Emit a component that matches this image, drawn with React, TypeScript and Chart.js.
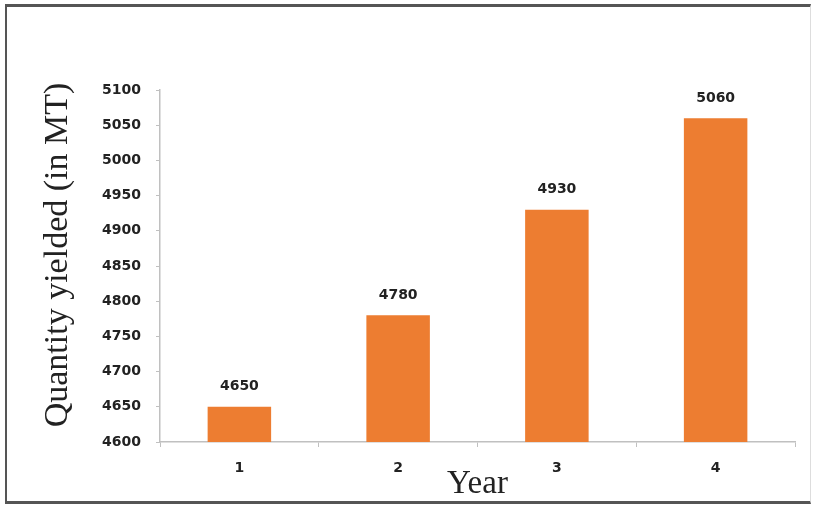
import React, { useEffect, useRef } from "react";
import { Chart, registerables } from "chart.js";

Chart.register(...registerables);

const years: string[] = ["1", "2", "3", "4"];
const quantities: number[] = [4650, 4780, 4930, 5060];
const yMin = 4600;
const yMax = 5100;
const yStep = 50;
const xTitle = "Year";
const yTitle = "Quantity yielded (in MT)";

const valueLabels = {
  id: "valueLabels",
  afterDatasetsDraw(chart: any) {
    const ctx = chart.ctx;
    const meta = chart.getDatasetMeta(0);
    ctx.save();
    ctx.font = "bold 14px 'DejaVu Sans'";
    ctx.fillStyle = "#222";
    ctx.textAlign = "center";
    ctx.textBaseline = "middle";
    meta.data.forEach((bar: any, i: number) => {
      ctx.fillText(String(chart.data.datasets[0].data[i]), bar.x, bar.y - 20);
    });
    ctx.restore();
  },
};

const yTitlePlugin = {
  id: "yTitlePlugin",
  afterDraw(chart: any) {
    const ctx = chart.ctx;
    ctx.save();
    ctx.translate(58, 255);
    ctx.rotate(-Math.PI / 2);
    ctx.font = "34px 'Liberation Serif'";
    ctx.fillStyle = "#222";
    ctx.textAlign = "center";
    ctx.textBaseline = "middle";
    ctx.fillText(yTitle, 0, 0);
    ctx.restore();
  },
};

export default function App() {
  const ref = useRef<HTMLCanvasElement>(null);
  useEffect(() => {
    document.body.style.margin = "0";
    const chart = new Chart(ref.current!, {
      type: "bar",
      data: {
        labels: years,
        datasets: [
          {
            data: quantities,
            backgroundColor: "#ED7D31",
            borderWidth: 0,
            barPercentage: 0.4,
            categoryPercentage: 1,
          },
        ],
      },
      options: {
        responsive: false,
        animation: false,
        devicePixelRatio: 1,
        layout: { padding: { left: 0, right: 20, top: 90, bottom: 0 } },
        plugins: { legend: { display: false }, tooltip: { enabled: false } },
        scales: {
          x: {
            offset: true,
            grid: {
              offset: true,
              drawOnChartArea: false,
              drawTicks: true,
              tickLength: 5,
              color: "#c0c0c0",
            },
            border: { color: "#c0c0c0", width: 1.5 },
            ticks: {
              font: { family: "'DejaVu Sans'", size: 14, weight: "bold" },
              color: "#222",
              padding: 13,
            },
            title: {
              display: true,
              text: xTitle,
              font: { family: "'Liberation Serif'", size: 33 },
              color: "#222",
              padding: { top: 0, bottom: 4 },
            },
            afterFit: (s: any) => {
              s.height = 66;
            },
          },
          y: {
            min: yMin,
            max: yMax,
            grid: {
              drawOnChartArea: false,
              drawTicks: true,
              tickLength: 4,
              color: "#c0c0c0",
            },
            border: { color: "#c0c0c0", width: 1.5 },
            ticks: {
              stepSize: yStep,
              font: { family: "'DejaVu Sans'", size: 14, weight: "bold" },
              color: "#222",
              padding: 15,
              callback: (v: any) => String(v),
            },
            afterFit: (s: any) => {
              s.width = 160;
            },
          },
        },
      },
      plugins: [valueLabels, yTitlePlugin],
    });
    return () => chart.destroy();
  }, []);

  return (
    <div style={{ position: "fixed", left: 0, top: 0, width: 815, height: 508, background: "#fff" }}>
      <div
        style={{
          position: "absolute",
          left: 5,
          top: 4,
          width: 806,
          height: 500,
          boxSizing: "border-box",
          borderTop: "3px solid #555",
          borderLeft: "2px solid #555",
          borderBottom: "3px solid #555",
          borderRight: "1px solid #ddd",
        }}
      />
      <canvas ref={ref} width={815} height={508} style={{ position: "absolute", left: 0, top: 0 }} />
    </div>
  );
}
